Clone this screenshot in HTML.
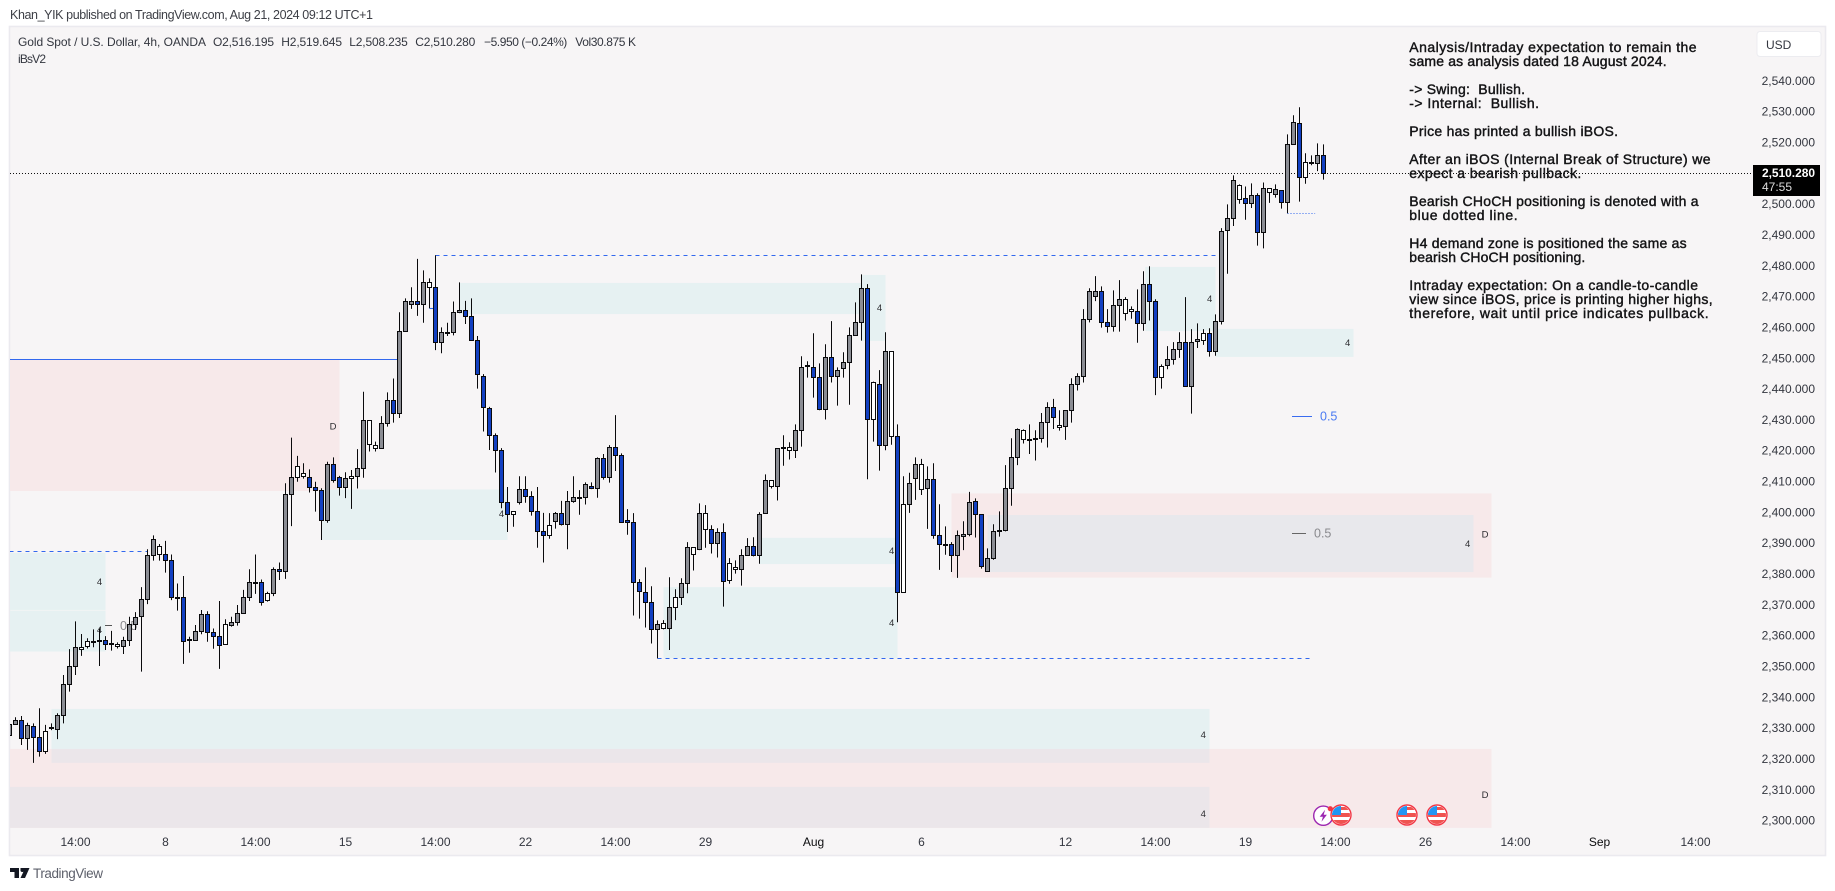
<!DOCTYPE html>
<html lang="en">
<head>
<meta charset="utf-8">
<title>Gold Spot / U.S. Dollar, 4h chart</title>
<style>
html,body{margin:0;padding:0;background:#fff;width:1835px;height:891px;overflow:hidden}
svg{display:block}
text{font-family:"Liberation Sans",sans-serif}
.note{font-size:14px;fill:#141416;stroke:#141416;stroke-width:.42px}
.lg{font-size:12px;fill:#33363f}
.zl{font-size:9.5px;fill:#2c2c30;text-anchor:middle}
</style>
</head>
<body>
<svg id="chart" xmlns="http://www.w3.org/2000/svg" width="1835" height="891" viewBox="0 0 1835 891">
  <defs>
    <clipPath id="plotClip"><rect x="10" y="27" width="1743" height="801"/></clipPath>
    <clipPath id="flagClip"><circle cx="0" cy="0" r="9"/></clipPath>
  </defs>
  <rect x="0" y="0" width="1835" height="891" fill="#ffffff"/>
  <text x="10" y="19" font-size="12.5" fill="#3d3f46" textLength="363" lengthAdjust="spacing">Khan_YIK published on TradingView.com, Aug 21, 2024 09:12 UTC+1</text>
  <rect x="9.5" y="26.5" width="1816" height="829" fill="#f7f5f6" stroke="#ebeaef" stroke-width="1.6"/>
  <g id="zones" clip-path="url(#plotClip)"></g>
  <g>
    <text class="zl" x="99.5" y="585">4</text>
    <text class="zl" x="99.5" y="633">4</text>
    <text class="zl" x="501.5" y="517">4</text>
    <text class="zl" x="879.5" y="311">4</text>
    <text class="zl" x="891.7" y="554">4</text>
    <text class="zl" x="891.7" y="626">4</text>
    <text class="zl" x="1209.7" y="302">4</text>
    <text class="zl" x="1347.7" y="346">4</text>
    <text class="zl" x="1467.7" y="547">4</text>
    <text class="zl" x="1203.3" y="738">4</text>
    <text class="zl" x="1203.3" y="817">4</text>
    <text class="zl" x="333" y="429.5">D</text>
    <text class="zl" x="1485" y="537.5">D</text>
    <text class="zl" x="1485" y="798">D</text>
  </g>
  <g>
    <line x1="105" x2="112" y1="625.5" y2="625.5" stroke="#555" stroke-width="1"/>
    <text x="120" y="630" font-size="12.5" fill="#8a8a8e">0.5</text>
    <line x1="1292" x2="1312" y1="416.5" y2="416.5" stroke="#3a6cf0" stroke-width="1"/>
    <text x="1320" y="420.5" font-size="12.5" fill="#4a7af2">0.5</text>
    <line x1="1292" x2="1306" y1="533.5" y2="533.5" stroke="#666" stroke-width="1"/>
    <text x="1314" y="537.5" font-size="12.5" fill="#8a8a8e">0.5</text>
  </g>
  <g id="levels" clip-path="url(#plotClip)"></g>
  <line id="lastPriceLine" x1="10" x2="1753" stroke="#111" stroke-width="1" stroke-dasharray="1 2"/>
  <g id="candles" clip-path="url(#plotClip)"></g>

  <g>
    <text class="lg" x="18" y="46" textLength="188" lengthAdjust="spacing">Gold Spot / U.S. Dollar, 4h, OANDA</text>
    <text class="lg" x="213" y="46" textLength="61" lengthAdjust="spacing">O2,516.195</text>
    <text class="lg" x="281.3" y="46" textLength="60.7" lengthAdjust="spacing">H2,519.645</text>
    <text class="lg" x="349.3" y="46" textLength="58.5" lengthAdjust="spacing">L2,508.235</text>
    <text class="lg" x="415.3" y="46" textLength="60" lengthAdjust="spacing">C2,510.280</text>
    <text class="lg" x="484" y="46" textLength="83.3" lengthAdjust="spacing">−5.950 (−0.24%)</text>
    <text class="lg" x="575.3" y="46" textLength="60.7" lengthAdjust="spacing">Vol30.875 K</text>
    <text class="lg" x="18" y="63" textLength="28" lengthAdjust="spacing">iBsV2</text>
  </g>

  <g>
    <text class="note" x="1409.3" y="52" textLength="287.3" lengthAdjust="spacing">Analysis/Intraday expectation to remain the</text>
    <text class="note" x="1409.3" y="66" textLength="257.3" lengthAdjust="spacing">same as analysis dated 18 August 2024.</text>
    <text class="note" x="1409.3" y="94" textLength="115.7" lengthAdjust="spacing" xml:space="preserve">-&gt; Swing:  Bullish.</text>
    <text class="note" x="1409.3" y="108" textLength="129.7" lengthAdjust="spacing" xml:space="preserve">-&gt; Internal:  Bullish.</text>
    <text class="note" x="1409.3" y="136" textLength="208.7" lengthAdjust="spacing">Price has printed a bullish iBOS.</text>
    <text class="note" x="1409.3" y="164" textLength="301.3" lengthAdjust="spacing">After an iBOS (Internal Break of Structure) we</text>
    <text class="note" x="1409.3" y="178" textLength="172" lengthAdjust="spacing">expect a bearish pullback.</text>
    <text class="note" x="1409.3" y="206" textLength="289.3" lengthAdjust="spacing">Bearish CHoCH positioning is denoted with a</text>
    <text class="note" x="1409.3" y="220" textLength="108.3" lengthAdjust="spacing">blue dotted line.</text>
    <text class="note" x="1409.3" y="248" textLength="277.3" lengthAdjust="spacing">H4 demand zone is positioned the same as</text>
    <text class="note" x="1409.3" y="262" textLength="176" lengthAdjust="spacing">bearish CHoCH positioning.</text>
    <text class="note" x="1409.3" y="290" textLength="288.7" lengthAdjust="spacing">Intraday expectation: On a candle-to-candle</text>
    <text class="note" x="1409.3" y="304" textLength="303.3" lengthAdjust="spacing">view since iBOS, price is printing higher highs,</text>
    <text class="note" x="1409.3" y="318" textLength="299.3" lengthAdjust="spacing">therefore, wait until price indicates pullback.</text>
  </g>

  <g id="priceAxis"></g>
  <g id="timeAxis"></g>

  <g>
    <rect x="1757" y="31.5" width="64" height="25" rx="3" fill="#fff" stroke="#ececf0" stroke-width="1"/>
    <text x="1766" y="49" font-size="12" fill="#33363f">USD</text>
  </g>
  <g>
    <rect x="1753" y="165" width="67" height="31" fill="#000"/>
    <text x="1762" y="177" font-size="12" font-weight="700" fill="#fff" textLength="53" lengthAdjust="spacing">2,510.280</text>
    <text x="1762" y="191" font-size="12" fill="#dcdcdc">47:55</text>
  </g>

  <g>
    <g transform="translate(1323.3 815.7)">
      <circle r="9.6" fill="#fff" stroke="#9c27b0" stroke-width="1.4"/>
      <path d="M1.8 -6 L-3.6 1 L-0.4 1 L-1.8 6 L3.6 -1 L0.4 -1 Z" fill="#9c27b0"/>
      <circle cx="7" cy="-7" r="2.6" fill="#f23645"/>
    </g>
    <g transform="translate(1341 815)">
      <circle r="10" fill="#fff" stroke="#f23645" stroke-width="1.4"/>
      <g clip-path="url(#flagClip)">
        <rect x="-9" y="-2" width="18" height="4" fill="#ef5350"/>
        <rect x="-9" y="5" width="18" height="5" fill="#ef5350"/>
        <rect x="0" y="-8" width="9" height="3" fill="#ef5350"/>
        <rect x="-9" y="-9" width="9" height="9" fill="#2196f3"/>
      </g>
    </g>
    <g transform="translate(1407 815)">
      <circle r="10" fill="#fff" stroke="#f23645" stroke-width="1.4"/>
      <g clip-path="url(#flagClip)">
        <rect x="-9" y="-2" width="18" height="4" fill="#ef5350"/>
        <rect x="-9" y="5" width="18" height="5" fill="#ef5350"/>
        <rect x="0" y="-8" width="9" height="3" fill="#ef5350"/>
        <rect x="-9" y="-9" width="9" height="9" fill="#2196f3"/>
      </g>
    </g>
    <g transform="translate(1437 815)">
      <circle r="10" fill="#fff" stroke="#f23645" stroke-width="1.4"/>
      <g clip-path="url(#flagClip)">
        <rect x="-9" y="-2" width="18" height="4" fill="#ef5350"/>
        <rect x="-9" y="5" width="18" height="5" fill="#ef5350"/>
        <rect x="0" y="-8" width="9" height="3" fill="#ef5350"/>
        <rect x="-9" y="-9" width="9" height="9" fill="#2196f3"/>
      </g>
    </g>
  </g>

  <g>
    <path d="M10 868 H19 V878 H14.5 V872 H10 Z M20.5 868 H29.5 L25 878 H20.5 L24 870.5 A1.3 1.3 0 0 1 20.5 870 Z" fill="#131722"/>
    <text x="33" y="878" font-size="13.5" fill="#5d606b" textLength="70" lengthAdjust="spacing">TradingView</text>
  </g>
</svg>
<script>
/* Candle data, prices in USD, one entry per 4h bar */
const opens = [
2327.8,2331.5,2332.8,2326.9,2330.8,2327.3,2322.6,2330.0,2329.9,2334.4,
2344.5,2350.3,2355.8,2356.6,2358.3,2358.8,2358.7,2357.7,2356.7,2356.8,
2358.7,2363.9,2366.5,2372.0,2386.3,2386.5,2386.6,2384.7,2372.7,2372.7,
2359.1,2358.7,2361.7,2367.2,2361.3,2360.0,2357.4,2363.6,2364.6,2367.5,
2372.7,2377.5,2377.6,2371.6,2374.0,2381.8,2381.1,2406.1,2411.6,2412.0,
2411.6,2408.4,2407.4,2397.7,2415.8,2411.6,2408.3,2411.3,2412.0,2414.5,
2422.3,2421.0,2421.0,2429.1,2436.6,2432.4,2459.0,2467.6,2468.7,2467.8,
2473.3,2473.3,2455.4,2458.6,2458.7,2465.2,2465.8,2463.9,2456.1,2444.4,
2434.0,2425.3,2420.4,2403.5,2399.6,2403.5,2407.8,2405.5,2400.6,2394.1,
2392.8,2397.4,2400.0,2396.4,2403.9,2405.1,2405.2,2408.7,2408.1,2417.8,
2411.6,2421.4,2418.8,2397.7,2397.0,2377.6,2374.3,2371.1,2362.3,2362.6,
2362.6,2369.5,2372.7,2377.3,2386.7,2388.3,2394.8,2394.8,2390.2,2393.8,
2378.2,2381.8,2381.8,2386.3,2389.3,2386.3,2400.0,2408.7,2408.7,2421.3,
2420.4,2420.4,2426.9,2447.7,2447.3,2444.1,2433.7,2450.6,2444.4,2447.0,
2449.0,2457.7,2461.9,2473.0,2430.5,2441.8,2422.0,2425.0,2425.0,2374.3,
2402.9,2411.3,2407.8,2408.1,2411.0,2392.8,2389.8,2389.9,2386.3,2392.5,
2393.1,2403.9,2399.6,2381.1,2385.4,2394.3,2394.4,2408.1,2418.1,2424.0,
2423.9,2424.3,2424.3,2429.5,2434.4,2427.9,2428.2,2433.4,2441.8,2444.4,
2462.9,2470.4,2472.0,2461.9,2460.6,2467.5,2464.9,2465.5,2465.5,2461.6,
2474.3,2468.8,2444.1,2448.0,2449.9,2453.2,2455.5,2441.2,2455.8,2456.1,
2458.4,2452.5,2462.2,2491.8,2495.7,2501.8,2502.1,2500.5,2503.1,2491.1,
2504.1,2503.4,2504.7,2500.9,2519.7,2526.5,2509.0,2513.7,2513.5,2516.195];

const highs = [
2331.5,2333.8,2334.2,2332.0,2331.8,2336.7,2331.3,2331.8,2335.1,2347.5,
2355.9,2364.9,2360.8,2359.4,2362.3,2362.6,2360.1,2361.8,2358.1,2359.9,
2366.4,2367.9,2376.0,2388.3,2392.8,2390.0,2391.0,2386.6,2377.2,2379.6,
2359.9,2363.7,2368.6,2368.2,2362.6,2371.5,2365.6,2366.4,2370.2,2375.1,
2381.8,2386.6,2378.5,2374.5,2382.4,2384.0,2409.7,2424.5,2418.6,2416.2,
2414.2,2410.2,2408.1,2416.7,2418.1,2412.1,2413.3,2414.0,2420.8,2439.4,
2430.0,2423.2,2431.5,2439.2,2443.7,2465.2,2469.7,2473.3,2482.5,2478.8,
2476.2,2483.7,2460.3,2461.8,2468.7,2474.9,2468.9,2469.7,2457.5,2445.1,
2434.5,2425.9,2421.1,2408.5,2400.6,2412.0,2412.0,2407.1,2408.5,2400.1,
2400.0,2400.4,2404.0,2407.2,2412.0,2407.5,2410.0,2410.0,2418.1,2419.2,
2422.1,2431.8,2419.4,2401.3,2400.0,2378.6,2382.4,2376.3,2365.2,2365.3,
2379.2,2375.3,2378.9,2390.6,2388.9,2403.2,2402.6,2396.1,2395.1,2396.7,
2385.4,2384.7,2388.3,2391.9,2392.2,2400.3,2412.6,2410.7,2421.1,2425.3,
2423.0,2428.8,2450.9,2449.3,2458.4,2448.6,2454.8,2462.3,2447.3,2452.2,
2460.3,2468.4,2477.5,2474.3,2442.7,2446.4,2458.7,2452.5,2428.8,2412.0,
2413.1,2418.1,2417.6,2415.2,2416.2,2402.9,2395.7,2390.6,2394.4,2397.4,
2406.9,2404.8,2399.6,2388.6,2396.4,2400.6,2415.6,2424.3,2427.5,2427.2,
2428.8,2426.9,2432.5,2436.0,2437.1,2433.4,2433.4,2443.8,2445.4,2466.2,
2473.0,2476.9,2473.6,2466.2,2472.3,2475.6,2470.1,2467.1,2472.6,2478.5,
2480.1,2469.4,2448.3,2454.2,2455.5,2458.7,2470.1,2459.7,2461.6,2459.7,
2460.0,2464.5,2492.5,2500.2,2509.6,2506.7,2506.0,2507.0,2503.8,2507.3,
2505.4,2506.7,2504.7,2522.9,2529.1,2531.7,2516.8,2516.1,2520.0,2519.645];

const lows = [
2327.0,2331.3,2324.8,2323.2,2319.0,2321.0,2321.9,2329.6,2326.7,2331.8,
2342.1,2347.5,2353.7,2356.1,2356.5,2350.4,2355.6,2355.4,2356.1,2354.3,
2356.9,2362.1,2348.6,2370.5,2384.6,2384.6,2380.7,2371.8,2368.4,2351.1,
2354.7,2358.6,2360.7,2358.3,2356.0,2349.5,2357.4,2363.2,2363.5,2367.5,
2371.5,2373.8,2370.0,2371.3,2373.1,2378.3,2378.7,2395.8,2410.2,2411.2,
2406.7,2400.5,2391.3,2396.9,2409.9,2405.7,2404.9,2401.4,2408.0,2411.5,
2420.0,2420.0,2421.0,2428.1,2429.4,2430.9,2459.0,2466.3,2464.0,2461.8,
2466.5,2452.9,2451.9,2457.5,2457.7,2464.9,2461.4,2456.1,2440.4,2426.5,
2420.5,2413.2,2401.6,2393.9,2395.6,2402.8,2403.4,2399.2,2388.8,2384.0,
2391.7,2395.0,2396.0,2388.3,2403.4,2399.5,2402.8,2407.8,2405.0,2410.9,
2409.9,2413.7,2397.0,2393.0,2366.8,2365.8,2362.9,2357.7,2352.9,2362.3,
2355.6,2365.3,2370.2,2374.0,2381.4,2388.0,2388.8,2386.9,2385.6,2369.7,
2377.1,2380.4,2376.5,2386.3,2386.0,2383.6,2400.0,2408.0,2404.1,2415.4,
2417.4,2417.9,2421.6,2444.0,2437.5,2433.4,2430.4,2442.4,2434.9,2444.0,
2435.2,2457.7,2456.0,2411.0,2423.2,2413.8,2420.4,2422.2,2364.6,2374.3,
2400.1,2404.3,2405.9,2394.9,2391.7,2381.6,2386.5,2380.9,2379.0,2388.0,
2392.5,2392.1,2382.0,2381.1,2384.9,2392.4,2394.1,2402.4,2415.6,2422.6,
2419.2,2417.1,2422.9,2421.3,2427.3,2426.8,2423.8,2429.4,2439.8,2442.4,
2461.9,2468.8,2460.2,2458.6,2458.9,2458.9,2462.5,2463.1,2455.3,2459.2,
2462.5,2438.3,2440.4,2446.7,2448.2,2450.4,2441.2,2432.3,2453.6,2454.6,
2450.8,2451.1,2461.2,2477.7,2493.2,2500.4,2495.2,2499.0,2486.8,2485.9,
2500.7,2502.4,2498.8,2497.3,2519.7,2501.1,2506.9,2512.9,2511.0,2508.235];

const closes = [
2331.5,2332.8,2326.9,2331.2,2327.3,2322.6,2329.2,2330.3,2334.4,2344.5,
2350.3,2356.5,2356.5,2358.4,2358.4,2358.4,2357.4,2357.8,2357.4,2358.7,
2363.9,2366.2,2372.0,2386.3,2391.5,2389.2,2384.7,2372.7,2372.8,2358.4,
2358.7,2361.7,2367.2,2361.3,2360.0,2357.1,2363.9,2364.6,2367.5,2372.7,
2377.6,2377.6,2371.1,2374.0,2381.8,2381.1,2406.1,2411.6,2415.2,2412.9,
2408.3,2407.4,2397.7,2415.8,2410.7,2408.3,2411.3,2412.0,2414.5,2430.0,
2430.0,2422.0,2429.2,2436.6,2432.4,2459.0,2468.7,2468.7,2467.8,2474.8,
2474.8,2455.4,2458.7,2458.7,2465.2,2465.8,2463.9,2456.1,2445.1,2434.4,
2425.3,2420.4,2403.5,2399.6,2400.6,2407.8,2405.5,2400.6,2394.1,2392.8,
2396.1,2400.0,2396.4,2403.9,2405.2,2405.2,2409.4,2408.1,2417.8,2411.6,
2421.4,2418.8,2397.0,2397.0,2377.6,2374.7,2371.1,2362.3,2364.0,2364.3,
2369.5,2372.7,2377.3,2388.9,2388.9,2400.0,2400.0,2390.2,2393.8,2377.9,
2383.7,2382.4,2386.3,2389.3,2386.3,2399.6,2410.7,2410.7,2421.1,2421.4,
2421.4,2426.9,2447.3,2447.8,2444.1,2433.7,2450.6,2444.4,2446.4,2449.0,
2457.7,2461.9,2473.0,2430.5,2442.5,2422.0,2452.5,2452.5,2374.3,2402.9,
2409.7,2415.9,2415.9,2411.0,2392.8,2389.9,2389.9,2386.3,2392.8,2393.1,
2403.5,2399.6,2382.8,2385.4,2394.1,2394.4,2408.1,2418.1,2427.2,2426.9,
2424.0,2424.0,2429.5,2434.4,2431.1,2428.5,2433.4,2441.8,2444.4,2462.9,
2472.0,2472.0,2461.9,2460.6,2467.5,2469.4,2469.4,2466.2,2461.6,2474.3,
2468.8,2444.1,2447.7,2449.9,2453.2,2455.5,2441.2,2455.5,2456.4,2458.4,
2452.5,2462.3,2491.4,2495.7,2508.0,2506.4,2500.5,2503.1,2491.1,2505.4,
2505.4,2505.1,2500.9,2519.7,2526.8,2509.0,2513.8,2513.8,2516.1,2510.28];

/* Bars painted white by the indicator */
const hollowBars = [6,12,13,18,25,36,43,48,49,57,60,61,70,84,90,109,111,114,116,120,121,127,130,144,147,149,152,169,175,186,187,192,199,205,210,216];

/* Axis labels */
const priceTicks = [2540,2530,2520,2500,2490,2480,2470,2460,2450,2440,2430,2420,2410,2400,2390,2380,2370,2360,2350,2340,2330,2320,2310,2300];
const timeLabels = ["14:00","8","14:00","15","14:00","22","14:00","29","Aug","6","12","14:00","19","14:00","26","14:00","Sep","14:00"];
const timeBars = [11,26,41,56,71,86,101,116,134,152,176,191,206,221,236,251,265,281];
const boldTimeLabels = ["Aug","Sep"];

/* Supply / demand zones: bar range and price range */
const zoneKinds  = ["red","teal","teal","teal","teal","teal","teal","teal","teal","teal","red","slate","red","teal","mix","mix"];
const zoneStart  = [0,0,0,52,75,142,125,109,189.3,201,157,163,0,7,7,0];
const zoneEnd    = [55,16,16,83,142,146,148,148,201,224,247,244,247,200,200,200];
const zoneTop    = [2449.8,2387.1,2368.4,2407.7,2474.7,2477.3,2392.0,2376.0,2479.9,2459.8,2406.4,2399.4,2323.5,2336.5,2323.5,2311.2];
const zoneBottom = [2407.2,2368.6,2355.1,2391.3,2464.6,2455.9,2383.5,2352.9,2459.1,2450.7,2379.1,2380.9,2297.9,2323.5,2319.0,2297.9];

/* Structure levels: price and bar range */
const levelStyle = ["solid","dash","dash","dash","dash","dot"];
const levelPrice = [2449.8,2387.6,2483.7,2466.5,2352.9,2497.3];
const levelStart = [0,0,71,70,108,213];
const levelEnd   = [64.7,23,202,71,217,217.6];

const lastPrice = 2510.28;

const SVGNS = "http://www.w3.org/2000/svg";
function xOf(bar){ return 9.5 + 6 * bar; }
function yOf(price){ return 81.7 + (2540 - price) * 3.082; }
function snapY(price){ return Math.round(yOf(price) - 0.5) + 0.5; }
function make(tag, attrs, parent){
  const el = document.createElementNS(SVGNS, tag);
  for (const k in attrs) el.setAttribute(k, attrs[k]);
  parent.appendChild(el);
  return el;
}

const zoneFill = { red:"#f7e9ea", teal:"#e6f1f2", mix:"#ebe6ea", slate:"#e8e8ec" };
const zonesLayer = document.getElementById("zones");
zoneKinds.forEach(function(kind, i){
  const x0 = xOf(zoneStart[i]);
  const x1 = xOf(zoneEnd[i]);
  const y0 = yOf(zoneTop[i]);
  const y1 = yOf(zoneBottom[i]);
  const r = make("rect", { x:x0, y:y0, width:x1-x0, height:y1-y0, fill:zoneFill[kind] }, zonesLayer);
  
  
});

const levelsLayer = document.getElementById("levels");
levelStyle.forEach(function(style, i){
  const y = snapY(levelPrice[i]);
  const l = make("line", { x1:xOf(levelStart[i]), x2:xOf(levelEnd[i]), y1:y, y2:y, stroke:"#3268ee", "stroke-width":1.1 }, levelsLayer);
  if (style === "dash") l.setAttribute("stroke-dasharray", "4 4");
  if (style === "dot") l.setAttribute("stroke-dasharray", "1 2");
  
  
});

const lastLine = document.getElementById("lastPriceLine");
lastLine.setAttribute("y1", snapY(lastPrice));
lastLine.setAttribute("y2", snapY(lastPrice));

const candleLayer = document.getElementById("candles");
opens.forEach(function(open, i){
  const close = closes[i];
  const x = xOf(i);
  const g = make("g", {}, candleLayer);
  
  
  const wick = make("line", { x1:x, x2:x, y1:yOf(highs[i]), y2:yOf(lows[i]), stroke:"#0a0a0c", "stroke-width":1 }, g);
  
  
  const top = snapY(Math.max(open, close));
  const bottom = snapY(Math.min(open, close));
  let fill = close < open ? "#1240c2" : "#8b8d94";
  if (hollowBars.indexOf(i) >= 0) fill = "#ffffff";
  const body = make("rect", { x:x-2, y:top, width:4, height:Math.max(bottom-top,1), fill:fill, stroke:"#0a0a0c", "stroke-width":1 }, g);
  
  
});

const priceAxis = document.getElementById("priceAxis");
priceTicks.forEach(function(p){
  const t = make("text", { x:1815, y:yOf(p)+3.2, "font-size":12, fill:"#33363f", "text-anchor":"end" }, priceAxis);
  t.textContent = p.toLocaleString("en-US", { minimumFractionDigits:3, maximumFractionDigits:3 });
  
  
});

const timeAxis = document.getElementById("timeAxis");
timeLabels.forEach(function(label, i){
  const t = make("text", { x:xOf(timeBars[i]), y:846, "font-size":12, fill:"#33363f", "text-anchor":"middle" }, timeAxis);
  if (boldTimeLabels.indexOf(label) >= 0) t.setAttribute("fill", "#0c0c0e");
  t.textContent = label;
  
  
});
</script>
</body>
</html>
